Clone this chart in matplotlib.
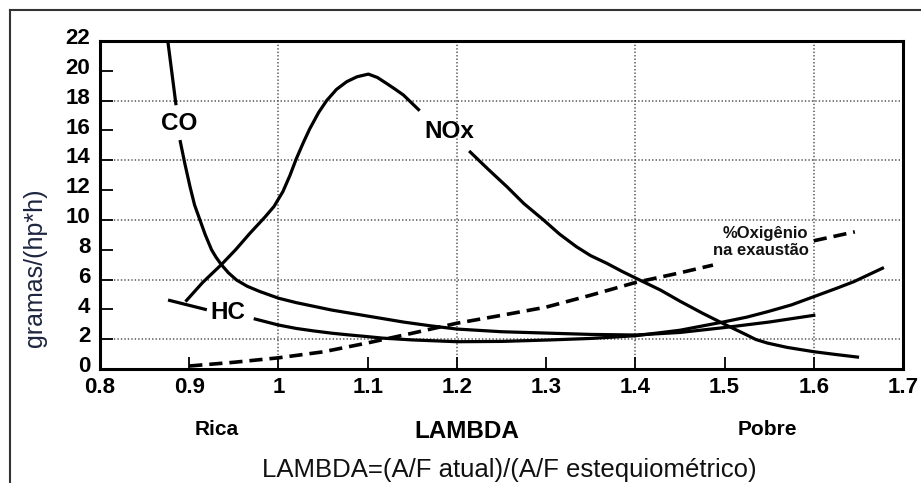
import numpy as np
import matplotlib
matplotlib.use("Agg")
import matplotlib.pyplot as plt
import matplotlib.transforms as mtransforms
from matplotlib.lines import Line2D

plt.rcParams["font.family"] = ["Liberation Sans", "DejaVu Sans"]
plt.rcParams["lines.scale_dashes"] = False

nan = np.nan
# curvas (lambda, g/(hp*h)); nan = corte para o rotulo
co_x = [0.876, 0.885, nan, 0.890, 0.895, 0.901, 0.906, 0.912, 0.918, 0.925, 0.930,
        0.936, 0.944, 0.953, 0.965, 0.979, 1.0, 1.02, 1.04, 1.06, 1.08, 1.11,
        1.14, 1.17, 1.2, 1.25, 1.305, 1.35, 1.4, 1.45, 1.5, 1.55, 1.6]
co_y = [22, 17.8, nan, 15.25, 13.8, 12.2, 11.0, 10.0, 9.0, 8.0, 7.5,
        7.0, 6.45, 5.97, 5.55, 5.2, 4.75, 4.45, 4.2, 3.95, 3.75, 3.45,
        3.15, 2.9, 2.68, 2.5, 2.4, 2.32, 2.28, 2.45, 2.78, 3.15, 3.6]
hc_x = [0.878, 0.918, nan, 0.974, 0.987, 1.0, 1.02, 1.04, 1.06, 1.08, 1.1, 1.117,
        1.15, 1.2, 1.25, 1.305, 1.35, 1.4, 1.45, 1.5, 1.525, 1.548, 1.575, 1.6,
        1.625, 1.645, 1.677]
hc_y = [4.6, 4.0, nan, 3.35, 3.15, 2.95, 2.72, 2.55, 2.4, 2.28, 2.17, 2.07,
        1.95, 1.83, 1.85, 1.95, 2.05, 2.23, 2.6, 3.17, 3.48, 3.84, 4.3, 4.85,
        5.4, 5.86, 6.76]
nox_x = [0.897, 0.915, 0.936, 0.952, 0.968, 0.985, 0.995, 1.005, 1.013, 1.02, 1.028,
         1.035, 1.045, 1.054, 1.065, 1.0765, 1.088, 1.1008, 1.111, 1.121, 1.13, 1.14,
         1.157, nan, 1.215, 1.235, 1.256, 1.275, 1.297, 1.315, 1.334, 1.35, 1.368,
         1.385, 1.401, 1.428, 1.45, 1.475, 1.5, 1.525, 1.535, 1.548, 1.57, 1.6,
         1.625, 1.649]
nox_y = [4.6, 5.8, 7.0, 8.0, 9.1, 10.2, 10.9, 11.9, 13.0, 14.1, 15.2,
         16.1, 17.2, 18.0, 18.75, 19.27, 19.6, 19.78, 19.55, 19.16, 18.8, 18.38,
         17.4, nan, 14.55, 13.4, 12.23, 11.1, 10.0, 9.05, 8.2, 7.6, 7.09,
         6.55, 6.08, 5.3, 4.55, 3.75, 3.0, 2.28, 1.98, 1.74, 1.45, 1.16,
         0.97, 0.8]
o2_x = [0.9, 0.95, 1.0, 1.05, 1.1, 1.15, 1.2, 1.25, 1.3, 1.35, 1.4, 1.45,
        1.487, nan, 1.6, 1.646]
o2_y = [0.2, 0.45, 0.75, 1.15, 1.75, 2.4, 3.07, 3.6, 4.15, 4.95, 5.8, 6.45,
        6.97, nan, 8.6, 9.2]

xticks = [0.8, 0.9, 1.0, 1.1, 1.2, 1.3, 1.4, 1.5, 1.6, 1.7]
xticklabels = ["0.8", "0.9", "1", "1.1", "1.2", "1.3", "1.4", "1.5", "1.6", "1.7"]
yticks = list(range(0, 23, 2))
grid_x = [1.0, 1.2, 1.4, 1.6]
grid_y = [2, 6, 10, 14, 18]

W, H = 921, 483
fig = plt.figure(figsize=(W / 100, H / 100), dpi=100)
ax = fig.add_axes([100 / W, 1 - 369 / H, 803 / W, 328 / H])

for gx in grid_x:
    ax.axvline(gx, color="#555555", lw=1.1, ls=(0, (1, 1.5)), zorder=1)
for gy in grid_y:
    ax.axhline(gy, color="#555555", lw=1.1, ls=(0, (1, 1.5)), zorder=1)

lw = 2.3
ax.plot(co_x, co_y, color="black", lw=lw, zorder=3)
ax.plot(hc_x, hc_y, color="black", lw=lw, zorder=3)
ax.plot(nox_x, nox_y, color="black", lw=lw, zorder=3)
ax.plot(o2_x, o2_y, color="black", lw=2.6, dashes=(9.5, 5), zorder=3)

ax.set_xlim(0.8, 1.7)
ax.set_ylim(0, 22)
ax.set_xticks(xticks)
ax.set_xticklabels(xticklabels)
ax.set_yticks(yticks)
ax.tick_params(direction="in", length=9, width=1.3, labelsize=16, color="black")
ax.tick_params(axis="y", pad=7)
ax.tick_params(axis="x", pad=6)
up = mtransforms.ScaledTranslation(0, 3.5 / 72, fig.dpi_scale_trans)
for lab in ax.get_yticklabels():
    lab.set_fontweight("bold")
    lab.set_transform(lab.get_transform() + up)
for lab in ax.get_xticklabels():
    lab.set_fontweight("bold")
for sp in ax.spines.values():
    sp.set_linewidth(2.2)

ax.text(0.889, 16.5, "CO", fontsize=17.5, fontweight="bold", ha="center", va="center")
ax.text(1.192, 15.96, "NOx", fontsize=17.5, fontweight="bold", ha="center", va="center")
ax.text(0.9435, 3.82, "HC", fontsize=17.5, fontweight="bold", ha="center", va="center")
ax.text(1.594, 8.52, "%Oxigênio\nna exaustão", fontsize=12, fontweight="bold",
        ha="right", va="center", multialignment="right", color="#111111")

fig.text(35 / W, 1 - 268 / H, "gramas/(hp*h)", rotation=90, fontsize=18,
         ha="center", va="center", color="#1e2540")
fig.text(217 / W, 1 - 435 / H, "Rica", fontsize=15, fontweight="bold", ha="center", va="baseline")
fig.text(467 / W, 1 - 438 / H, "LAMBDA", fontsize=17.5, fontweight="bold", ha="center", va="baseline")
fig.text(767 / W, 1 - 435 / H, "Pobre", fontsize=15, fontweight="bold", ha="center", va="baseline")
fig.text(509 / W, 1 - 477 / H, "LAMBDA=(A/F atual)/(A/F estequiométrico)", fontsize=18.5,
         ha="center", va="baseline", color="#111111")

# moldura externa
fig.add_artist(Line2D([9.5 / W, 9.5 / W], [0, 1 - 10 / H], transform=fig.transFigure,
                      color="#333333", lw=1.5))
fig.add_artist(Line2D([9.5 / W, 1], [1 - 10 / H, 1 - 10 / H], transform=fig.transFigure,
                      color="#333333", lw=1.5))

fig.savefig("out.png", dpi=100)
